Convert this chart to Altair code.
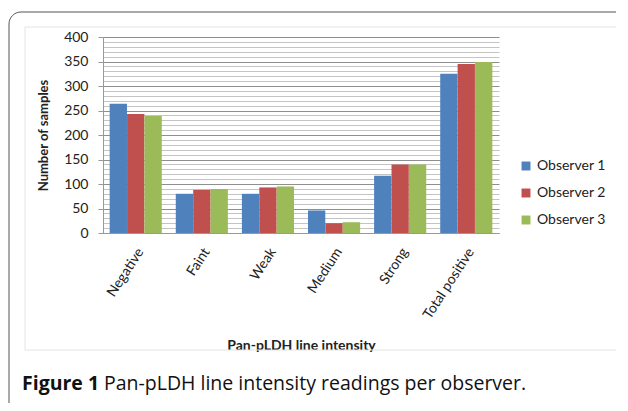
import altair as alt
import pandas as pd

categories = ["Negative", "Faint", "Weak", "Medium", "Strong", "Total positive"]
observers = ["Observer 1", "Observer 2", "Observer 3"]
obs1 = [264, 80, 80, 46, 117, 325]
obs2 = [243, 88, 93, 20, 140, 345]
obs3 = [239, 90, 95, 22, 140, 349]
colors = ["#4F81BD", "#C0504D", "#9BBB59"]
y_ticks = list(range(0, 401, 10))

rows = []
for name, vals in zip(observers, [obs1, obs2, obs3]):
    for c, v in zip(categories, vals):
        rows.append({"category": c, "observer": name, "value": v})
df = pd.DataFrame(rows)

FONT = "Lato"

bars = alt.Chart(df).mark_bar(size=17.3).encode(
    x=alt.X("category:N", sort=categories,
            scale=alt.Scale(paddingInner=0.21, paddingOuter=0.1),
            axis=alt.Axis(title="Pan-pLDH line intensity", labelAngle=-57,
                          labelAlign="right", labelBaseline="middle",
                          labelPadding=16, labelOffset=5, ticks=False, labelFontSize=14,
                          labelColor="#222", domainColor="#999",
                          titleFontSize=14, titleFontWeight="bold",
                          titleColor="#222", titleY=112, titleBaseline="middle",
                          labelFont=FONT, titleFont=FONT)),
    xOffset=alt.XOffset("observer:N", sort=observers),
    y=alt.Y("value:Q", scale=alt.Scale(domain=[0, 400], nice=False),
            axis=alt.Axis(title="Number of samples", values=y_ticks,
                          labelExpr="datum.value % 50 === 0 ? datum.label : ''",
                          gridColor={"condition": {"test": "datum.value % 50 === 0", "value": "#8f8f8f"}, "value": "#c4c4c4"},
                          tickOpacity={"condition": {"test": "datum.value % 50 === 0", "value": 1}, "value": 0},
                          tickColor="#999", tickSize=5, labelPadding=10,
                          labelFontSize=14, labelColor="#222", domainColor="#999",
                          titleFontSize=13, titleFontWeight="bold", titleColor="#222",
                          titleX=-60, titleY=98, titleAngle=-90, titleAlign="center",
                          titleBaseline="middle", labelFont=FONT, titleFont=FONT)),
    color=alt.Color("observer:N", sort=observers,
                    scale=alt.Scale(domain=observers, range=colors),
                    legend=alt.Legend(title=None, orient="none", legendX=416, legendY=122,
                                      symbolType="square", symbolSize=80,
                                      symbolStrokeWidth=0, labelFontSize=14,
                                      labelFont=FONT, labelColor="#222",
                                      rowPadding=13, labelOffset=4)),
)

one = alt.Data(values=[{}])

frame = alt.Chart(one).mark_rect(fillOpacity=0, stroke="#555", strokeWidth=1,
                                 cornerRadius=12).encode(
    x=alt.value(-94), x2=alt.value(540), y=alt.value(-25), y2=alt.value(420))

inner = alt.Chart(one).mark_rect(fillOpacity=0, stroke="#e4e4e4", strokeWidth=1).encode(
    x=alt.value(-78), x2=alt.value(514), y=alt.value(-10), y2=alt.value(313))

cap1 = alt.Chart(one).mark_text(text="Figure 1", align="left", baseline="middle",
                                fontSize=19.5, fontWeight="bold", font="Open Sans",
                                color="#111").encode(x=alt.value(-81), y=alt.value(347))
cap2 = alt.Chart(one).mark_text(text="Pan-pLDH line intensity readings per observer.",
                                align="left", baseline="middle", fontSize=19.5,
                                font="Open Sans", color="#111").encode(
    x=alt.value(1), y=alt.value(347))

chart = alt.layer(frame, inner, bars, cap1, cap2).properties(
    width=396, height=196,
    autosize=alt.AutoSizeParams(type="none"),
    padding={"left": 95, "top": 29, "right": 117, "bottom": 170},
).configure_view(stroke=None)

chart.save("out.html", embed_options={"renderer": "svg", "actions": False})
